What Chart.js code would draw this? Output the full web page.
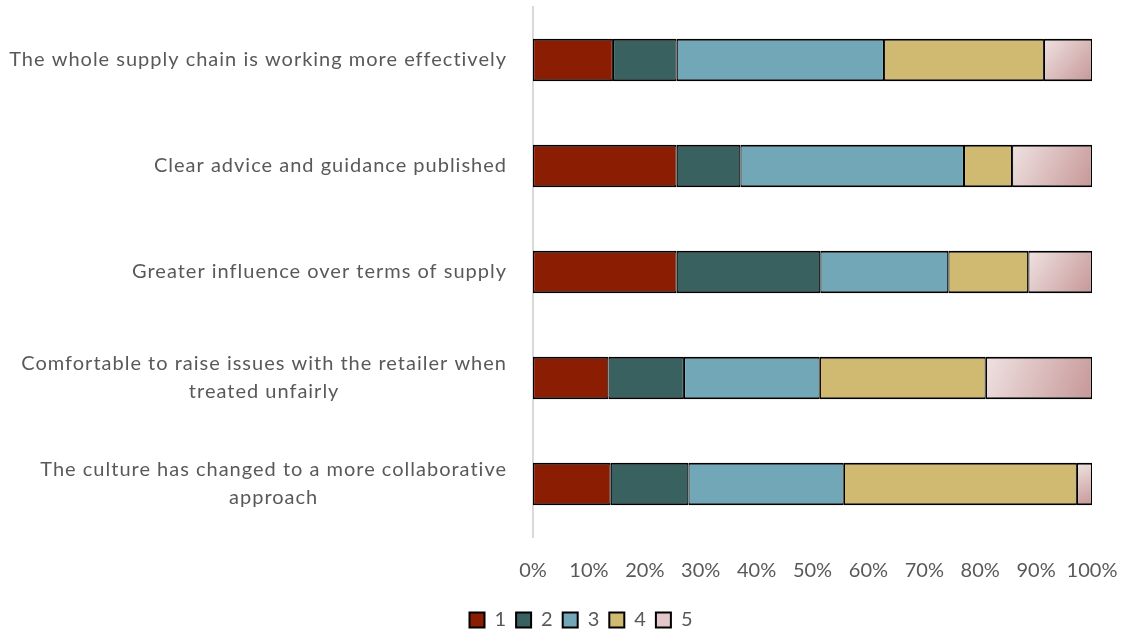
<!DOCTYPE html>
<html>
<head>
<meta charset="utf-8">
<script src="https://cdn.jsdelivr.net/npm/chart.js@4.4.1/dist/chart.umd.min.js"></script>
<style>
  html, body { margin: 0; padding: 0; background: #ffffff; }
  #wrap { width: 1122px; height: 630px; }
</style>
</head>
<body>
<div id="wrap"><canvas id="chart" width="1122" height="630"></canvas></div>
<script>
// Survey statements (top to bottom), each split into a list of lines
const statements = [
  ["The whole supply chain is working more effectively"],
  ["Clear advice and guidance published"],
  ["Greater influence over terms of supply"],
  ["Comfortable to raise issues with the retailer when", "treated unfairly"],
  ["The culture has changed to a more collaborative", "approach"]
];

// Rating levels 1..5
const ratingLabels = ["1", "2", "3", "4", "5"];

// Share of responses (%) per rating, one entry per statement
const rating1 = [14.3, 25.7, 25.7, 13.5, 13.9];
const rating2 = [11.4, 11.4, 25.7, 13.5, 13.9];
const rating3 = [37.1, 40.0, 22.9, 24.3, 27.8];
const rating4 = [28.6, 8.6, 14.3, 29.7, 41.7];
const rating5 = [8.6, 14.3, 11.4, 19.0, 2.7];

// Percent axis ticks
const percentTicks = [0, 10, 20, 30, 40, 50, 60, 70, 80, 90, 100];

const seriesValues = [rating1, rating2, rating3, rating4, rating5];
const seriesColors = ["#8B1D03", "#386160", "#72A7B7", "#D0B971", null];

const FONT_FAMILY = "Lato, 'Open Sans', 'Liberation Sans', sans-serif";
const TEXT_COLOR = "#595959";

// Diagonal soft pink fill for rating 5, spanning each bar's own rectangle
function pinkFill(context) {
  const chart = context.chart;
  const xs = chart.scales.x, ys = chart.scales.y;
  if (!chart.chartArea || !xs || !ys) return "#DDBDBD";
  const i = context.dataIndex;
  let start = 0;
  for (let d = 0; d < 4; d++) start += seriesValues[d][i];
  const end = start + rating5[i];
  const x0 = xs.getPixelForValue(start);
  const x1 = xs.getPixelForValue(end);
  const yc = ys.getPixelForValue(i);
  const half = 21;
  const g = chart.ctx.createLinearGradient(x0, yc - half, x1, yc + half);
  g.addColorStop(0, "#EFE2E2");
  g.addColorStop(1, "#C79797");
  return g;
}

const datasets = ratingLabels.map((lab, k) => ({
  label: lab,
  data: seriesValues[k],
  backgroundColor: k === 4 ? pinkFill : seriesColors[k],
  borderColor: "#000000",
  borderWidth: { top: 2, bottom: 2, left: 1.2, right: 1.2 },
  borderSkipped: false,
  barPercentage: 0.4,
  categoryPercentage: 1.0
}));

// Category labels: single lines sit flush right, wrapped lines are centred on one another
const statementLabels = {
  id: "statementLabels",
  afterDraw(chart) {
    const ctx = chart.ctx;
    const ys = chart.scales.y;
    const right = chart.chartArea.left - 26;
    const lineH = 28;
    ctx.save();
    ctx.font = "20px " + FONT_FAMILY;
    ctx.letterSpacing = "1px";
    ctx.fillStyle = TEXT_COLOR;
    ctx.textBaseline = "middle";
    ctx.textAlign = "center";
    statements.forEach((lines, i) => {
      const widest = Math.max(...lines.map(l => ctx.measureText(l).width));
      const cx = right - widest / 2;
      const yc = ys.getPixelForValue(i);
      const top = yc - (lines.length - 1) * lineH / 2;
      lines.forEach((l, j) => ctx.fillText(l, cx, top + j * lineH));
    });
    ctx.restore();
  }
};

new Chart(document.getElementById("chart"), {
  type: "bar",
  data: { labels: statements.map(s => s.join(" ")), datasets },
  options: {
    indexAxis: "y",
    responsive: false,
    animation: false,
    layout: { padding: { top: 7, right: 30, bottom: 0, left: 70 } },
    scales: {
      x: {
        stacked: true,
        min: 0,
        max: 100,
        afterBuildTicks(scale) { scale.ticks = percentTicks.map(v => ({ value: v })); },
        afterFit(scale) {
          scale.height = 63;
          scale.paddingLeft = 0;
          scale.paddingRight = 0;
        },
        grid: { display: false, drawTicks: false },
        border: { display: false },
        ticks: {
          padding: 22,
          color: TEXT_COLOR,
          font: { family: FONT_FAMILY, size: 20 },
          callback: v => v + "%",
          maxRotation: 0,
          autoSkip: false
        }
      },
      y: {
        stacked: true,
        afterFit(scale) { scale.width = 463; },
        grid: { display: false, drawTicks: false },
        border: { display: true, color: "#D9D9D9", width: 2 },
        ticks: { display: false }
      }
    },
    plugins: {
      legend: {
        position: "bottom",
        maxHeight: 30,
        labels: {
          boxWidth: 15,
          boxHeight: 15,
          padding: 10,
          color: TEXT_COLOR,
          font: { family: FONT_FAMILY, size: 20 },
          generateLabels(chart) {
            return chart.data.datasets.map((ds, k) => ({
              text: ds.label,
              fillStyle: k === 4 ? "#E2C8C8" : ds.backgroundColor,
              strokeStyle: "#000000",
              lineWidth: 2,
              datasetIndex: k,
              fontColor: TEXT_COLOR
            }));
          }
        }
      },
      tooltip: { enabled: false }
    }
  },
  plugins: [statementLabels]
});
</script>
</body>
</html>
